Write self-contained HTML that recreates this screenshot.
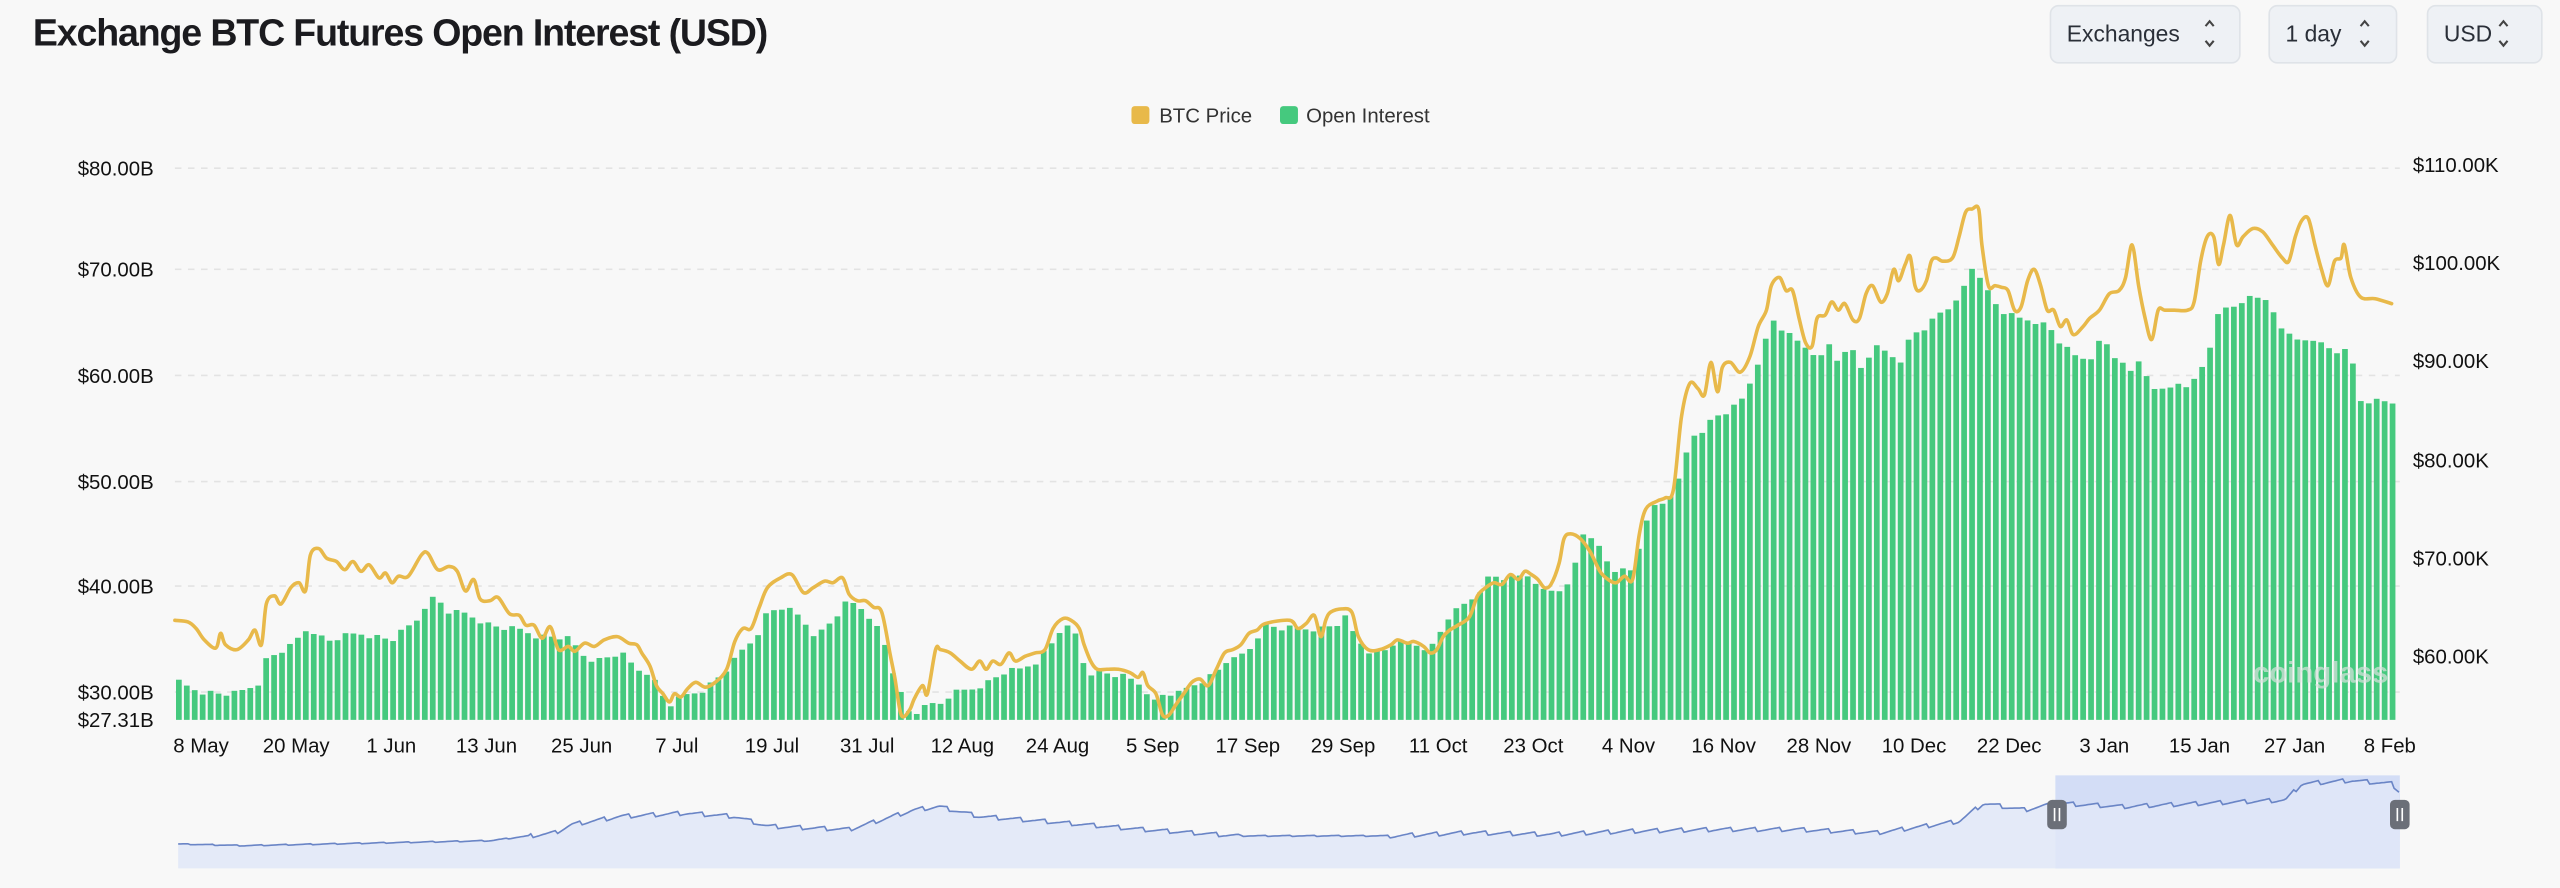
<!DOCTYPE html>
<html><head><meta charset="utf-8">
<style>
html,body{margin:0;padding:0;background:#f8f8f8;}
svg{display:block;font-family:"Liberation Sans",sans-serif;}
</style></head>
<body>
<svg id="c" width="2560" height="888" viewBox="0 0 1568 544" xmlns="http://www.w3.org/2000/svg">
<rect width="1568" height="544" fill="#f8f8f8"/>
<text x="20" y="28" font-size="23" font-weight="bold" fill="#1b1b1f" letter-spacing="-0.7">Exchange BTC Futures Open Interest (USD)</text>
<g font-size="14" fill="#2a2f38">
<rect x="1256" y="3.5" width="116" height="35" rx="5" fill="#eef1f5" stroke="#dfe3e8"/>
<text x="1266" y="25.5">Exchanges</text>
<path d="M1351 16l2.5-3 2.5 3M1351 25l2.5 3 2.5-3" stroke="#444" fill="none" stroke-width="1.3"/>
<rect x="1390" y="3.5" width="78" height="35" rx="5" fill="#eef1f5" stroke="#dfe3e8"/>
<text x="1400" y="25.5">1 day</text>
<path d="M1446 16l2.5-3 2.5 3M1446 25l2.5 3 2.5-3" stroke="#444" fill="none" stroke-width="1.3"/>
<rect x="1487" y="3.5" width="70" height="35" rx="5" fill="#eef1f5" stroke="#dfe3e8"/>
<text x="1497" y="25.5">USD</text>
<path d="M1531 16l2.5-3 2.5 3M1531 25l2.5 3 2.5-3" stroke="#444" fill="none" stroke-width="1.3"/>
</g>
<g font-size="12.5" fill="#333">
<rect x="693" y="65" width="11" height="11" rx="2" fill="#e8b94a"/>
<text x="710" y="75">BTC Price</text>
<rect x="784" y="65" width="11" height="11" rx="2" fill="#45c97e"/>
<text x="800" y="75">Open Interest</text>
</g>
<g id="grid" stroke="#e3e3e3" stroke-dasharray="4 4" stroke-width="1"></g>
<g id="bars" fill="#45c97e"></g>
<text x="1380" y="418" font-size="18" font-weight="bold" fill="#d9e2de" opacity="0.7">coinglass</text>
<path id="price" fill="none" stroke="#e8b94a" stroke-width="2.2" stroke-linejoin="round" stroke-linecap="round"/>
<g id="ylab" font-size="12.5" fill="#111"></g>
<g id="xlab" font-size="12.5" fill="#111"></g>
<rect x="1259" y="475" width="211" height="57" fill="#d3ddf6"/>
<path id="navA" fill="#e0e7f8" opacity="0.85"/>
<polyline id="navL" fill="none" stroke="#6a85c6" stroke-width="1"/>
<rect x="1254" y="490" width="12" height="18" rx="3" fill="#6b6f78"/>
<path d="M1258.5 495v8M1261.5 495v8" stroke="#fff" stroke-width="1"/>
<rect x="1464" y="490" width="12" height="18" rx="3" fill="#6b6f78"/>
<path d="M1468.5 495v8M1471.5 495v8" stroke="#fff" stroke-width="1"/>
</svg>
<script>
var NS="http://www.w3.org/2000/svg";
function el(t,a,p,txt){var e=document.createElementNS(NS,t);for(var k in a)e.setAttribute(k,a[k]);if(txt)e.textContent=txt;document.getElementById(p).appendChild(e);return e;}
function interp(pts,x){if(x<=pts[0])return pts[1];for(var i=0;i<pts.length-2;i+=2){if(x>=pts[i]&&x<=pts[i+2]){var t=(x-pts[i])/(pts[i+2]-pts[i]);return pts[i+1]+t*(pts[i+3]-pts[i+1]);}}return pts[pts.length-1];}
var L=[["$80.00B",103],["$70.00B",165],["$60.00B",230],["$50.00B",295],["$40.00B",359],["$30.00B",424]];
L.forEach(function(l){el("line",{x1:107,x2:1470,y1:l[1],y2:l[1]},"grid");el("text",{x:94,y:l[1]+4.5,"text-anchor":"end"},"ylab",l[0]);});
el("text",{x:94,y:445.5,"text-anchor":"end"},"ylab","$27.31B");
var R=[["$110.00K",101],["$100.00K",161],["$90.00K",221],["$80.00K",282],["$70.00K",342],["$60.00K",402]];
R.forEach(function(l){el("text",{x:1478,y:l[1]+4.5},"ylab",l[0]);});
var X=["8 May","20 May","1 Jun","13 Jun","25 Jun","7 Jul","19 Jul","31 Jul","12 Aug","24 Aug","5 Sep","17 Sep","29 Sep","11 Oct","23 Oct","4 Nov","16 Nov","28 Nov","10 Dec","22 Dec","3 Jan","15 Jan","27 Jan","8 Feb"];
X.forEach(function(s,k){el("text",{x:123+58.3*k,y:461,"text-anchor":"middle"},"xlab",s);});
var OI=[107,417,115,421,125,424,135,425,145,425,155,420,160,417,163,404,170,400,180,395,185,387,190,385,200,393,210,390,220,388,230,390,240,392,255,380,262,368,267,366,275,375,285,376,290,378,300,383,310,385,320,386,330,390,340,390,350,392,355,400,365,405,380,400,390,410,398,412,405,425,410,432,420,426,432,422,440,415,448,407,455,398,463,390,470,375,480,372,490,378,500,390,510,380,518,370,525,370,535,380,542,395,548,415,555,435,560,439,566,430,574,433,583,425,595,422,605,418,615,412,625,410,635,405,645,393,650,385,655,385,660,390,665,412,675,412,680,413,690,415,700,420,707,430,713,425,722,425,730,420,740,415,745,412,750,405,755,405,765,398,770,390,775,383,785,385,790,385,800,385,810,385,820,382,825,378,830,390,840,400,850,398,855,392,860,395,870,395,875,398,880,393,885,380,895,372,905,364,910,355,915,353,925,355,935,352,940,355,945,362,950,362,960,360,965,345,970,326,975,328,985,345,990,350,1000,350,1010,312,1020,308,1030,292,1035,268,1045,262,1050,255,1055,254,1065,248,1070,240,1075,225,1080,215,1085,195,1090,200,1095,205,1102,210,1110,215,1115,220,1120,210,1125,220,1135,215,1140,225,1148,212,1155,215,1160,218,1165,225,1170,205,1180,200,1185,195,1190,190,1200,185,1205,170,1210,160,1215,175,1225,190,1235,195,1245,196,1255,200,1262,210,1270,218,1280,220,1285,210,1290,210,1298,222,1305,228,1312,218,1318,240,1325,238,1330,236,1340,238,1345,230,1355,212,1360,185,1368,190,1375,185,1380,178,1390,187,1395,195,1400,205,1410,210,1415,205,1420,210,1430,215,1440,216,1445,245,1465,246];
var pitch=(1468-107)/280;
for(var i=0;i<280;i++){var cx=107+pitch*(i+0.5);var y=interp(OI,cx);var j=((i*37)%7-3)*0.6;y+=j;if(y>439)y=439;el("rect",{x:(cx-1.75).toFixed(2),y:y.toFixed(1),width:3.5,height:(441-y).toFixed(1)},"bars");}
var P=[107,380,115,381,120,385,125,392,132,397,135,388,138,395,145,398,152,392,156,386,160,395,163,370,168,365,172,370,178,360,183,357,187,362,190,340,195,336,200,342,206,344,211,349,216,344,221,350,226,346,232,354,236,351,240,357,244,353,250,353,258,340,262,339,268,349,275,347,280,350,285,362,290,355,294,367,300,368,305,366,312,376,318,377,322,383,327,383,332,391,337,384,342,398,348,396,352,399,358,394,364,396,370,392,378,390,385,394,390,395,393,400,398,408,402,420,406,425,410,430,413,425,417,427,421,422,426,418,432,421,438,418,445,410,450,393,455,385,460,385,465,372,470,360,478,354,485,352,492,363,498,360,505,356,510,357,516,354,520,364,525,368,530,368,535,372,540,375,545,400,548,415,552,438,557,435,560,428,565,420,568,425,573,398,576,398,582,400,588,405,595,410,600,405,604,410,608,405,613,407,618,400,622,405,628,402,634,400,640,398,645,385,651,379,656,380,661,385,664,395,668,405,672,410,678,410,685,410,692,412,697,415,700,412,703,420,708,425,712,438,716,438,720,432,725,425,730,418,735,416,740,420,745,410,750,400,755,398,760,395,765,388,770,386,775,382,790,380,795,385,800,382,805,377,809,390,812,380,815,375,822,373,828,375,832,390,838,398,845,398,852,395,856,392,862,394,866,393,872,396,876,400,880,398,884,390,888,386,893,383,900,378,905,365,910,360,915,357,920,358,925,352,930,355,934,350,938,352,942,355,946,360,950,358,955,345,958,330,962,327,968,330,974,338,980,350,985,355,990,357,995,353,1000,355,1004,328,1008,312,1015,307,1020,305,1025,300,1030,255,1035,235,1040,238,1044,242,1048,222,1052,240,1055,225,1060,222,1066,228,1072,218,1077,200,1082,190,1085,175,1090,170,1094,178,1098,178,1102,195,1106,210,1110,212,1113,195,1118,193,1122,185,1126,190,1130,186,1135,196,1139,195,1143,180,1147,175,1152,185,1156,180,1160,165,1163,172,1167,162,1170,157,1173,175,1176,178,1180,172,1183,160,1186,158,1190,160,1196,158,1200,145,1204,130,1208,128,1212,128,1214,150,1218,175,1222,175,1226,176,1230,178,1234,190,1238,188,1242,172,1246,165,1250,175,1254,190,1258,190,1262,200,1266,196,1270,205,1276,200,1280,195,1286,190,1292,180,1298,178,1302,170,1306,150,1310,175,1314,195,1318,208,1322,190,1326,190,1332,190,1340,190,1344,185,1348,160,1352,145,1356,145,1359,162,1362,150,1366,132,1370,150,1374,145,1380,140,1386,142,1392,150,1398,158,1402,160,1406,145,1410,135,1414,134,1418,150,1422,165,1426,175,1430,160,1434,158,1436,150,1440,170,1446,182,1455,183,1465,186];
var pts=[];for(var k=0;k<P.length;k+=2)pts.push([P[k],P[k+1]]);
var d="M"+pts[0][0]+" "+pts[0][1];
for(var i=0;i<pts.length-1;i++){var p0=pts[Math.max(0,i-1)],p1=pts[i],p2=pts[i+1],p3=pts[Math.min(pts.length-1,i+2)];
var c1x=p1[0]+(p2[0]-p0[0])/6,c1y=p1[1]+(p2[1]-p0[1])/6,c2x=p2[0]-(p3[0]-p1[0])/6,c2y=p2[1]-(p3[1]-p1[1])/6;
d+=" C"+c1x.toFixed(1)+" "+c1y.toFixed(1)+" "+c2x.toFixed(1)+" "+c2y.toFixed(1)+" "+p2[0]+" "+p2[1];}
document.getElementById("price").setAttribute("d",d);
var N=[109,517,150,518,250,516,300,515,340,510,350,505,380,500,420,498,450,500,470,506,520,508,560,496,575,494,600,500,640,503,700,508,760,512,800,512,850,512,900,510,950,511,1000,509,1050,508,1100,508,1150,510,1200,503,1215,492,1240,496,1260,492,1300,494,1350,492,1400,490,1410,480,1440,478,1465,480,1470,485];
var ns="",da="M109 532";
for(var x=109;x<=1470;x+=1.5){var y=interp(N,x)+(((x*13)%5)-2)*0.35*(interp(N,x)<512?1.6:0.4);ns+=x+","+y.toFixed(1)+" ";da+=" L"+x+" "+y.toFixed(1);}
da+=" L1470 532Z";
document.getElementById("navL").setAttribute("points",ns);
document.getElementById("navA").setAttribute("d",da);
</script>
</body></html>
